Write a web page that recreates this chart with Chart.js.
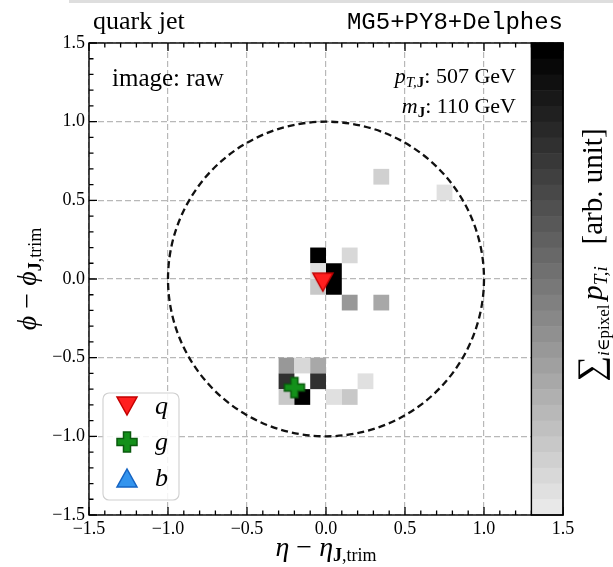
<!DOCTYPE html>
<html lang="en">
<head>
<meta charset="utf-8">
<title>quark jet image</title>
<script src="https://cdn.jsdelivr.net/npm/chart.js@4.4.0/dist/chart.umd.min.js"></script>
<style>
  html, body { margin: 0; padding: 0; background: #fff; }
  #wrap { width: 613px; height: 567px; }
</style>
</head>
<body>
<div id="wrap"><canvas id="jetImage" width="613" height="567"></canvas></div>
<script>
// pixel (cell) centres and their summed pT, 0 = empty, 1 = darkest
const cellEta = [-0.05, 0.15, -0.05, 0.05, 0.05, -0.05, 0.15, 0.35, 0.35, 0.75,
                 -0.25, -0.15, -0.05, -0.25, -0.05, -0.25, -0.15, 0.05, 0.15, 0.25];
const cellPhi = [0.15, 0.15, 0.05, 0.05, -0.05, -0.05, -0.15, -0.15, 0.65, 0.55,
                 -0.55, -0.55, -0.55, -0.65, -0.65, -0.75, -0.75, -0.75, -0.75, -0.65];
const cellPt  = [1.0, 0.08, 0.05, 1.0, 1.0, 0.14, 0.34, 0.27, 0.12, 0.03,
                 0.34, 0.08, 0.27, 0.78, 0.78, 0.14, 1.0, 0.03, 0.14, 0.03];
const cellSize = 0.1;

// parton positions
const quarkPos = [{x: -0.02, y: -0.02}];
const gluonPos = [{x: -0.20, y: -0.69}];
const bPos = [];

const jetRadius = 1.0;
const axisMin = -1.5, axisMax = 1.5, majorStep = 0.5, minorStep = 0.1;
const cbarFrom = 1.3;       // colour bar sits on top of the axes from here
const cbarLevels = 30;

const serif = "'Liberation Serif', 'DejaVu Serif', serif";

function grayFor(v) {
  const q = Math.round(v * (cbarLevels - 1)) / (cbarLevels - 1);
  const g = Math.round(232 * (1 - q));
  return `rgb(${g},${g},${g})`;
}

function makeMarker(kind, fill, edge) {
  const s = 24, c = document.createElement('canvas');
  c.width = s; c.height = s;
  const g = c.getContext('2d');
  g.beginPath();
  if (kind === 'down') {
    g.moveTo(2, 3); g.lineTo(22, 3); g.lineTo(12, 21);
  } else if (kind === 'up') {
    g.moveTo(2, 21); g.lineTo(22, 21); g.lineTo(12, 3);
  } else {
    const a = 8.5, b = 15.5, lo = 2, hi = 22;
    g.moveTo(a, lo); g.lineTo(b, lo); g.lineTo(b, a); g.lineTo(hi, a); g.lineTo(hi, b);
    g.lineTo(b, b); g.lineTo(b, hi); g.lineTo(a, hi); g.lineTo(a, b); g.lineTo(lo, b);
    g.lineTo(lo, a); g.lineTo(a, a);
  }
  g.closePath();
  g.fillStyle = fill; g.fill();
  g.lineWidth = 1.5; g.strokeStyle = edge; g.lineJoin = 'miter'; g.stroke();
  return c;
}

const qMarker = makeMarker('down', '#ff1f1f', '#c40000');
const gMarker = makeMarker('plus', '#13901a', '#0a5a0e');
const bMarker = makeMarker('up', '#3394ee', '#1463c2');

function runs(ctx, parts, x, y, align) {
  let total = 0;
  for (const p of parts) { ctx.font = p.font; p.w = ctx.measureText(p.text).width; total += p.w; }
  let cx = align === 'right' ? x - total : align === 'center' ? x - total / 2 : x;
  for (const p of parts) { ctx.font = p.font; ctx.fillText(p.text, cx, y + (p.dy || 0)); cx += p.w; }
}

const jetPlugin = {
  id: 'jetPlugin',
  beforeDatasetsDraw(chart) {
    const {ctx, chartArea: a, scales: {x, y}} = chart;
    ctx.save();
    ctx.beginPath(); ctx.rect(a.left, a.top, a.right - a.left, a.bottom - a.top); ctx.clip();
    // cells
    for (let i = 0; i < cellEta.length; i++) {
      const x0 = x.getPixelForValue(cellEta[i] - cellSize / 2);
      const x1 = x.getPixelForValue(cellEta[i] + cellSize / 2);
      const y0 = y.getPixelForValue(cellPhi[i] + cellSize / 2);
      const y1 = y.getPixelForValue(cellPhi[i] - cellSize / 2);
      ctx.fillStyle = grayFor(cellPt[i]);
      ctx.fillRect(x0, y0, x1 - x0, y1 - y0);
    }
    // jet cone
    const cx = x.getPixelForValue(0), cy = y.getPixelForValue(0);
    const rx = x.getPixelForValue(jetRadius) - cx, ry = cy - y.getPixelForValue(jetRadius);
    ctx.beginPath();
    ctx.ellipse(cx, cy, rx, ry, 0, 0, Math.PI * 2);
    ctx.setLineDash([7, 4]); ctx.lineWidth = 2.3; ctx.strokeStyle = '#111';
    ctx.stroke();
    ctx.restore();
  },
  afterDatasetsDraw(chart) {
    const {ctx, chartArea: a, scales: {x, y}} = chart;
    ctx.save();
    ctx.fillStyle = '#000'; ctx.textBaseline = 'alphabetic';

    // tick marks pointing inwards
    ctx.strokeStyle = '#000'; ctx.lineWidth = 1.3;
    const nMinor = Math.round((axisMax - axisMin) / minorStep);
    for (let k = 0; k <= nMinor; k++) {
      const v = axisMin + k * minorStep;
      const major = Math.abs(v / majorStep - Math.round(v / majorStep)) < 1e-6;
      const len = major ? 8 : 4.5;
      const px = x.getPixelForValue(v), py = y.getPixelForValue(v);
      ctx.beginPath();
      ctx.moveTo(px, a.bottom); ctx.lineTo(px, a.bottom - len);
      ctx.moveTo(px, a.top); ctx.lineTo(px, a.top + len);
      ctx.moveTo(a.left, py); ctx.lineTo(a.left + len, py);
      ctx.stroke();
    }

    // colour bar
    const cbL = x.getPixelForValue(cbarFrom), cbR = a.right;
    const h = (a.bottom - a.top) / cbarLevels;
    for (let i = 0; i < cbarLevels; i++) {
      const v = 1 - i / (cbarLevels - 1);
      ctx.fillStyle = grayFor(v);
      ctx.fillRect(cbL, a.top + i * h, cbR - cbL, h + 0.6);
    }
    ctx.lineWidth = 1.4; ctx.strokeStyle = '#000';
    ctx.strokeRect(cbL, a.top, cbR - cbL, a.bottom - a.top);
    ctx.strokeRect(a.left, a.top, a.right - a.left, a.bottom - a.top);

    // legend
    const lx = a.left + 14, ly = a.top + 350, lw = 76, lh = 107;
    ctx.beginPath(); ctx.roundRect(lx, ly, lw, lh, 6);
    ctx.fillStyle = 'rgba(255,255,255,0.85)'; ctx.fill();
    ctx.lineWidth = 1.1; ctx.strokeStyle = '#cfcfcf'; ctx.stroke();
    const marks = [qMarker, gMarker, bMarker];
    chart.data.datasets.forEach((ds, i) => {
      const ey = ly + 13 + i * 36;
      ctx.drawImage(marks[i], lx + 12, ey - 12);
      ctx.fillStyle = '#000'; ctx.font = 'italic 26px ' + serif;
      ctx.fillText(ds.label, lx + 52, ey + 8);
    });

    // annotations
    ctx.fillStyle = '#000';
    ctx.font = '25px ' + serif;
    ctx.fillText('image: raw', a.left + 23, a.top + 43);
    const it = 'italic 22px ' + serif, rm = '22px ' + serif;
    runs(ctx, [{text: 'p', font: it}, {text: 'T,', font: 'italic 15px ' + serif, dy: 4},
               {text: 'J', font: 'bold 15px ' + serif, dy: 4}, {text: ': 507 GeV', font: rm}],
         a.left + 427, a.top + 40, 'right');
    runs(ctx, [{text: 'm', font: it}, {text: 'J', font: 'bold 15px ' + serif, dy: 4},
               {text: ': 110 GeV', font: rm}],
         a.left + 427, a.top + 70, 'right');

    // titles above the axes
    ctx.font = '26px ' + serif;
    ctx.fillText('quark jet', a.left + 4, 29);
    ctx.font = "24px 'Liberation Mono', 'DejaVu Sans Mono', monospace";
    ctx.textAlign = 'right';
    ctx.fillText('MG5+PY8+Delphes', a.right, 29);
    ctx.textAlign = 'left';

    // axis titles
    const bigI = 'italic 28px ' + serif, big = '28px ' + serif;
    const subB = 'bold 18px ' + serif, sub = '18px ' + serif;
    runs(ctx, [{text: 'η', font: bigI}, {text: ' − ', font: big}, {text: 'η', font: bigI},
               {text: 'J', font: subB, dy: 5}, {text: ',trim', font: sub, dy: 5}],
         (a.left + a.right) / 2, 556, 'center');

    ctx.save();
    ctx.translate(36, (a.top + a.bottom) / 2);
    ctx.rotate(-Math.PI / 2);
    runs(ctx, [{text: 'ϕ', font: bigI}, {text: ' − ', font: big}, {text: 'ϕ', font: bigI},
               {text: 'J', font: subB, dy: 5}, {text: ',trim', font: sub, dy: 5}],
         0, 0, 'center');
    ctx.restore();

    ctx.save();
    ctx.translate(602, (a.top + a.bottom) / 2 - 24);
    ctx.rotate(-Math.PI / 2);
    runs(ctx, [{text: '∑', font: '36px ' + serif},
               {text: 'i', font: 'italic 17px ' + serif, dy: 7},
               {text: '∈pixel ', font: '17px ' + serif, dy: 7},
               {text: 'p', font: 'italic 30px ' + serif},
               {text: 'T,i', font: 'italic 19px ' + serif, dy: 5},
               {text: '   [arb. unit]', font: '29px ' + serif}],
         0, 0, 'center');
    ctx.restore();

    // faint rule along the very top of the figure
    ctx.strokeStyle = '#dedede'; ctx.lineWidth = 3;
    ctx.beginPath(); ctx.moveTo(69, 1.5); ctx.lineTo(613, 1.5); ctx.stroke();
    ctx.restore();
  }
};

const fmt = v => (v < 0 ? '−' : '') + Math.abs(v).toFixed(1);
const gridOpts = {
  color: '#b8b8b8', lineWidth: 1.2, drawTicks: false
};

new Chart(document.getElementById('jetImage'), {
  type: 'scatter',
  data: {
    datasets: [
      {label: 'q', data: quarkPos, pointStyle: qMarker},
      {label: 'g', data: gluonPos, pointStyle: gMarker},
      {label: 'b', data: bPos, pointStyle: bMarker}
    ]
  },
  options: {
    responsive: false,
    animation: false,
    layout: {padding: {left: 0, right: 50, top: 43, bottom: 0}},
    plugins: {legend: {display: false}, tooltip: {enabled: false}},
    scales: {
      x: {
        type: 'linear', min: axisMin, max: axisMax,
        border: {display: false, dash: [6, 3]},
        grid: gridOpts,
        ticks: {stepSize: majorStep, callback: fmt, color: '#000', padding: 3,
                maxRotation: 0, font: {family: serif, size: 18}},
        afterFit: s => { s.height = 52; }
      },
      y: {
        type: 'linear', min: axisMin, max: axisMax,
        border: {display: false, dash: [6, 3]},
        grid: gridOpts,
        ticks: {stepSize: majorStep, callback: fmt, color: '#000', padding: 4,
                font: {family: serif, size: 18}},
        afterFit: s => { s.width = 89; }
      }
    }
  },
  plugins: [jetPlugin]
});
</script>
</body>
</html>
